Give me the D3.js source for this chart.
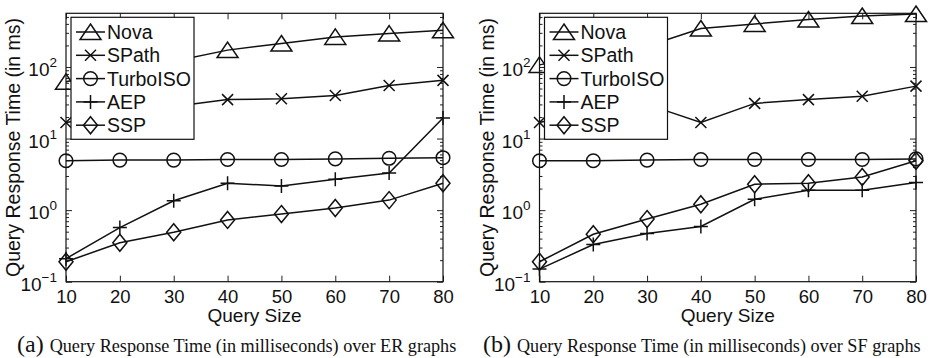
<!DOCTYPE html>
<html lang="en">
<head>
<meta charset="UTF-8">
<title>Query Response Time</title>
<script src="https://cdn.jsdelivr.net/npm/d3@7"></script>
<style>
body{margin:0;background:#fff;}
text{font-family:"Liberation Sans",Arial,Helvetica,sans-serif;fill:#111;}
.cap{font-family:"Liberation Serif","Times New Roman",serif;}
</style>
</head>
<body>
<script>
var querySizes=[10,20,30,40,50,60,70,80];
var seriesNames=["Nova","SPath","TurboISO","AEP","SSP"];
var yTickValues=[0.1,1,10,100];
var yTickExponents=["\u22121","0","1","2"];

// (a) ER graphs, ms
var erNova=[62,90,120,172,213,263,293,325];
var erSPath=[16.8,22,28,35,36,40,55,65];
var erTurboISO=[4.9,5.0,5.0,5.1,5.1,5.2,5.3,5.4];
var erAEP=[0.21,0.57,1.35,2.37,2.18,2.7,3.3,19.4];
var erSSP=[0.19,0.35,0.49,0.73,0.88,1.07,1.38,2.37];

// (b) SF graphs, ms
var sfNova=[107,150,195,345,400,460,515,550];
var sfSPath=[16.8,25,30,16.8,31,35,39,54];
var sfTurboISO=[4.9,4.9,5.0,5.1,5.1,5.1,5.1,5.2];
var sfAEP=[0.15,0.33,0.47,0.59,1.42,1.9,1.9,2.43];
var sfSSP=[0.19,0.46,0.75,1.21,2.3,2.37,2.9,4.9];

var panelLetters=["(a)","(b)"];
var captions=["Query Response Time (in milliseconds) over ER graphs",
              "Query Response Time (in milliseconds) over SF graphs"];

var panels=[
  {left:66,right:443,letter:0,series:[erNova,erSPath,erTurboISO,erAEP,erSSP],capX:17},
  {left:539.5,right:916,letter:1,series:[sfNova,sfSPath,sfTurboISO,sfAEP,sfSSP],capX:483}
];
var plotTop=13.3,plotBottom=281.7;

// marker shapes, same order as seriesNames
var markers=[
  "M0,-8L10.5,7.5L-10.5,7.5Z",
  "M-5.5,-5.5L5.5,5.5M-5.5,5.5L5.5,-5.5",
  "M6.8,0A6.8,6.8 0 1,1 -6.8,0A6.8,6.8 0 1,1 6.8,0Z",
  "M-7,0H7M0,-7V7",
  "M0,-8.5L7,0L0,8.5L-7,0Z"
];

var svg=d3.select("body").append("svg").attr("width",931).attr("height",358);

var minorTicks=[];
[0.1,1,10,100].forEach(function(d){
  for(var k=2;k<=9;k++){ if(d*k<=562) minorTicks.push(d*k); }
});

panels.forEach(function(p){
  var x=d3.scaleLinear().domain([10,80]).range([p.left,p.right]);
  var y=d3.scaleLog().domain([0.1,Math.pow(10,2.75)]).range([plotBottom,plotTop]);
  var g=svg.append("g");

  // x axes (bottom with labels, top mirrored), ticks pointing in
  g.append("g").attr("transform","translate(0,"+plotBottom+")")
    .call(d3.axisBottom(x).tickValues(querySizes).tickSize(-6).tickPadding(8))
    .call(function(a){a.select(".domain").remove();a.selectAll("text").attr("font-size",18.5).attr("dy","0.71em");});
  g.append("g").attr("transform","translate(0,"+plotTop+")")
    .call(d3.axisTop(x).tickValues(querySizes).tickSize(-6).tickFormat(""))
    .call(function(a){a.select(".domain").remove();});

  // y axes, major + minor
  g.append("g").attr("transform","translate("+p.left+",0)")
    .call(d3.axisLeft(y).tickValues(yTickValues).tickSize(-6).tickPadding(9).tickFormat(""))
    .call(function(a){
      a.select(".domain").remove();
      a.selectAll(".tick text").each(function(d,i){
        var t=d3.select(this).attr("dy",null).attr("y",8.5);
        t.append("tspan").attr("font-size",19).text("10");
        t.append("tspan").attr("font-size",13.5).attr("dy",-9).text(yTickExponents[i]);
      });
      a.selectAll(".tick text").attr("text-anchor","start").attr("x",function(){
        return -9-this.getComputedTextLength();
      });
    });
  g.append("g").attr("transform","translate("+p.left+",0)")
    .call(d3.axisLeft(y).tickValues(minorTicks).tickSize(-3).tickFormat(""))
    .call(function(a){a.select(".domain").remove();});
  g.append("g").attr("transform","translate("+p.right+",0)")
    .call(d3.axisRight(y).tickValues(yTickValues).tickSize(-6).tickFormat(""))
    .call(function(a){a.select(".domain").remove();});
  g.append("g").attr("transform","translate("+p.right+",0)")
    .call(d3.axisRight(y).tickValues(minorTicks).tickSize(-3).tickFormat(""))
    .call(function(a){a.select(".domain").remove();});

  g.selectAll(".tick line").attr("stroke","#222");

  g.append("rect").attr("x",p.left).attr("y",plotTop)
    .attr("width",p.right-p.left).attr("height",plotBottom-plotTop)
    .attr("fill","none").attr("stroke","#111").attr("stroke-width",1.2);

  // series
  var line=d3.line().x(function(d,i){return x(querySizes[i]);}).y(function(d){return y(d);});
  p.series.forEach(function(vals,si){
    g.append("path").datum(vals).attr("d",line)
      .attr("fill","none").attr("stroke","#111").attr("stroke-width",1.5);
    g.selectAll(null).data(vals).enter().append("path")
      .attr("d",markers[si])
      .attr("transform",function(d,i){return "translate("+x(querySizes[i])+","+y(d)+")";})
      .attr("fill","none").attr("stroke","#111").attr("stroke-width",1.5);
  });

  // legend
  var lx=p.left+5,ly=17.3;
  var lg=g.append("g").attr("transform","translate("+lx+","+ly+")");
  lg.append("rect").attr("width",123).attr("height",122)
    .attr("fill","#fff").attr("stroke","#111").attr("stroke-width",1.2);
  seriesNames.forEach(function(name,si){
    var ry=14.7+si*23.3;
    lg.append("line").attr("x1",5).attr("x2",34).attr("y1",ry).attr("y2",ry)
      .attr("stroke","#111").attr("stroke-width",1.5);
    lg.append("path").attr("d",markers[si]).attr("transform","translate(19.5,"+ry+")")
      .attr("fill","none").attr("stroke","#111").attr("stroke-width",1.5);
    lg.append("text").attr("x",36).attr("y",ry+7).attr("font-size",19.5).text(name);
  });

  // axis titles
  g.append("text").attr("x",(p.left+p.right)/2).attr("y",322).attr("text-anchor","middle")
    .attr("font-size",19).text("Query Size");
  g.append("text").attr("transform","translate("+(p.left-46)+","+((plotTop+plotBottom)/2)+") rotate(-90)")
    .attr("text-anchor","middle").attr("font-size",19.5).text("Query Response Time (in ms)");

  // caption
  var cap=g.append("text").attr("class","cap").attr("x",p.capX).attr("y",352);
  cap.append("tspan").attr("font-size",24).text(panelLetters[p.letter]);
  cap.append("tspan").attr("font-size",18.2).attr("dx",6).text(captions[p.letter]);
});
</script>
</body>
</html>
